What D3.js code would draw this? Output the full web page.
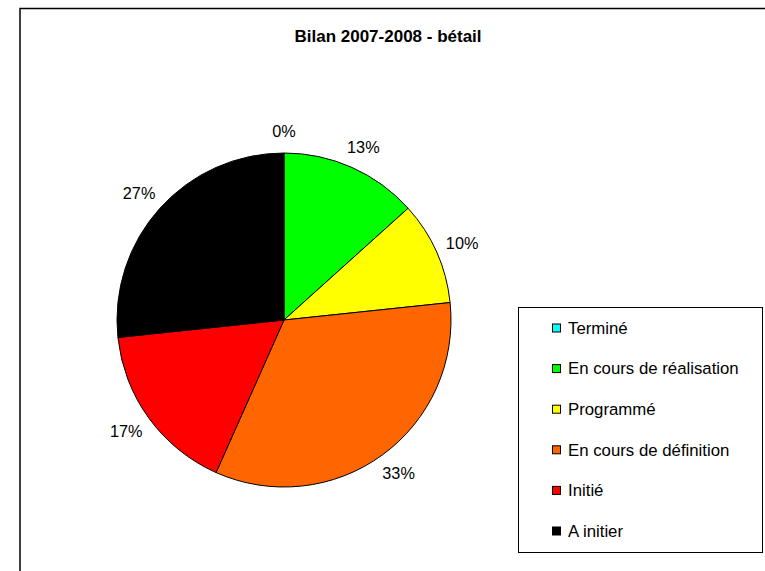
<!DOCTYPE html>
<html>
<head>
<meta charset="utf-8">
<script src="https://cdn.jsdelivr.net/npm/d3@7"></script>
<style>
  html, body { margin: 0; padding: 0; background: #fff; }
  svg { display: block; font-family: "Liberation Sans", Arial, sans-serif; }
</style>
</head>
<body>
<svg id="chart" width="765" height="571"></svg>
<script>
const title = "Bilan 2007-2008 - bétail";
const categories = ["Terminé", "En cours de réalisation", "Programmé", "En cours de définition", "Initié", "A initier"];
const values = [0, 4, 3, 10, 5, 8];
const colors = ["#00FFFF", "#00FF00", "#FFFF00", "#FF6600", "#FF0000", "#000000"];

const svg = d3.select("#chart");

// outer chart border
svg.append("rect")
  .attr("x", 20).attr("y", 8.5)
  .attr("width", 760).attr("height", 580)
  .attr("fill", "#fff").attr("stroke", "#000").attr("stroke-width", 1.5);

svg.append("text")
  .attr("x", 388).attr("y", 42)
  .attr("text-anchor", "middle")
  .attr("font-weight", "bold")
  .attr("font-size", "17px")
  .attr("fill", "#000")
  .text(title);

const cx = 284, cy = 320, r = 167;
const total = d3.sum(values);
const data = categories.map((c, i) => ({ cat: c, value: values[i], color: colors[i] }));

const pie = d3.pie().value(d => d.value).sort(null);
const arcs = pie(data);
const arc = d3.arc().innerRadius(0).outerRadius(r);

const g = svg.append("g").attr("transform", `translate(${cx},${cy})`);
g.selectAll("path.slice")
  .data(arcs)
  .enter().append("path")
  .attr("class", "slice")
  .attr("d", arc)
  .attr("fill", d => d.data.color)
  .attr("stroke", "#000")
  .attr("stroke-width", 1)
  .attr("stroke-linejoin", "round");

const fmt = v => Math.round(v / total * 100) + "%";
const rx = 195, ry = 189;
g.selectAll("text.lbl")
  .data(arcs)
  .enter().append("text")
  .attr("class", "lbl")
  .attr("font-size", "16.3px")
  .attr("fill", "#000")
  .attr("text-anchor", "middle")
  .attr("dy", "0.35em")
  .attr("x", d => Math.sin((d.startAngle + d.endAngle) / 2) * rx)
  .attr("y", d => -Math.cos((d.startAngle + d.endAngle) / 2) * ry)
  .text(d => fmt(d.data.value));

// legend
const lg = svg.append("g");
lg.append("rect")
  .attr("x", 518.5).attr("y", 307.5)
  .attr("width", 244).attr("height", 245)
  .attr("fill", "#fff").attr("stroke", "#000").attr("stroke-width", 1);

const rowY = d3.scalePoint().domain(categories).range([328, 531]);
const items = lg.selectAll("g.item").data(data).enter().append("g")
  .attr("class", "item")
  .attr("transform", d => `translate(0,${rowY(d.cat)})`);
items.append("rect")
  .attr("x", 552.5).attr("y", -4)
  .attr("width", 8).attr("height", 8)
  .attr("fill", d => d.color)
  .attr("stroke", "#000").attr("stroke-width", 1);
items.append("text")
  .attr("x", 568).attr("y", 0)
  .attr("dy", "0.35em")
  .attr("font-size", "16.8px")
  .attr("fill", "#000")
  .text(d => d.cat);
</script>
</body>
</html>
